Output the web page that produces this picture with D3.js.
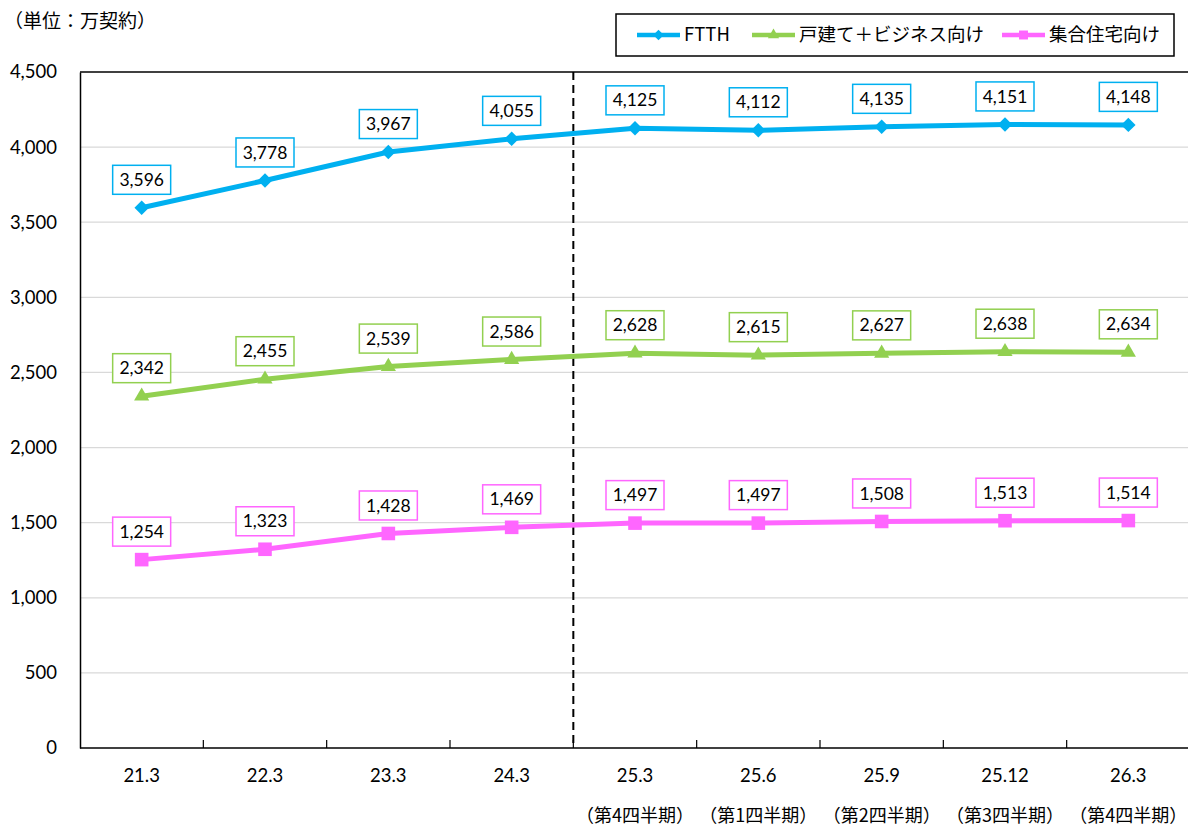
<!DOCTYPE html>
<html>
<head>
<meta charset="utf-8">
<script src="https://cdn.jsdelivr.net/npm/d3@7"></script>
<style>
  body { margin: 0; background: #fff; }
  svg { display: block; }
  .num { font-family: Lato, "Noto Sans", sans-serif; }
  .jp { font-family: "Noto Sans CJK JP", sans-serif; }
</style>
</head>
<body>
<script>
var categories = ["21.3", "22.3", "23.3", "24.3", "25.3", "25.6", "25.9", "25.12", "26.3"];
var subLabels = ["", "", "", "", "（第4四半期）", "（第1四半期）", "（第2四半期）", "（第3四半期）", "（第4四半期）"];
var ftth = [3596, 3778, 3967, 4055, 4125, 4112, 4135, 4151, 4148];
var detached = [2342, 2455, 2539, 2586, 2628, 2615, 2627, 2638, 2634];
var apartment = [1254, 1323, 1428, 1469, 1497, 1497, 1508, 1513, 1514];
var yTicks = [0, 500, 1000, 1500, 2000, 2500, 3000, 3500, 4000, 4500];

var series = [
  { name: "FTTH", values: ftth, color: "#00b0f0", marker: "diamond" },
  { name: "戸建て＋ビジネス向け", values: detached, color: "#92d050", marker: "triangle" },
  { name: "集合住宅向け", values: apartment, color: "#ff66ff", marker: "square" }
];

var width = 1188, height = 827;
var margin = { left: 80, right: 1190, top: 72, bottom: 748 };

var svg = d3.select("body").append("svg")
    .attr("width", width)
    .attr("height", height);

var x = d3.scaleBand()
    .domain(categories)
    .range([margin.left, margin.right])
    .padding(0);

var y = d3.scaleLinear()
    .domain([0, 4500])
    .range([margin.bottom, margin.top]);

function cx(i) { return x(categories[i]) + x.bandwidth() / 2; }

// gridlines
svg.append("g")
  .selectAll("line")
  .data(yTicks.filter(function(d) { return d > 0 && d < 4500; }))
  .enter().append("line")
    .attr("x1", margin.left)
    .attr("x2", margin.right)
    .attr("y1", function(d) { return y(d); })
    .attr("y2", function(d) { return y(d); })
    .attr("stroke", "#d9d9d9")
    .attr("stroke-width", 1.2);

// top border
svg.append("line")
    .attr("x1", margin.left).attr("x2", margin.right)
    .attr("y1", y(4500)).attr("y2", y(4500))
    .attr("stroke", "#000").attr("stroke-width", 1.5);

// y axis
var yAxis = d3.axisLeft(y)
    .tickValues(yTicks)
    .tickSize(0)
    .tickPadding(23)
    .tickFormat(d3.format(","));

var gy = svg.append("g")
    .attr("transform", "translate(" + margin.left + ",0)")
    .call(yAxis);
gy.select(".domain").attr("stroke", "#000").attr("stroke-width", 1.5);
gy.selectAll("text")
    .attr("class", "num")
    .attr("font-size", 18.5)
    .attr("fill", "#000");

// x axis
var gx = svg.append("g")
    .attr("transform", "translate(0," + margin.bottom + ")");
gx.append("line")
    .attr("x1", margin.left).attr("x2", margin.right)
    .attr("stroke", "#000").attr("stroke-width", 1.5);
gx.selectAll(".tick")
  .data(categories.slice(1))
  .enter().append("line")
    .attr("x1", function(d) { return x(d); })
    .attr("x2", function(d) { return x(d); })
    .attr("y1", 0).attr("y2", -8)
    .attr("stroke", "#000").attr("stroke-width", 1.2);
gx.selectAll(".lab")
  .data(categories)
  .enter().append("text")
    .attr("class", "num")
    .attr("x", function(d, i) { return cx(i); })
    .attr("y", 34)
    .attr("text-anchor", "middle")
    .attr("font-size", 18.5)
    .text(function(d) { return d; });
gx.selectAll(".sub")
  .data(subLabels)
  .enter().append("text")
    .attr("class", "jp")
    .attr("x", function(d, i) { return cx(i); })
    .attr("y", 74)
    .attr("text-anchor", "middle")
    .attr("font-size", 18)
    .text(function(d) { return d; });

// dashed separator between 24.3 and 25.3
svg.append("line")
    .attr("x1", x("25.3")).attr("x2", x("25.3"))
    .attr("y1", margin.top).attr("y2", margin.bottom)
    .attr("stroke", "#000")
    .attr("stroke-width", 2)
    .attr("stroke-dasharray", "8,5");

var symbols = {
  diamond: d3.symbol().type(d3.symbolSquare).size(105),
  triangle: d3.symbol().type(d3.symbolTriangle).size(100),
  square: d3.symbol().type(d3.symbolSquare).size(185)
};
function markerTransform(s) { return s.marker === "diamond" ? " rotate(45)" : ""; }

var line = d3.line()
    .x(function(d, i) { return cx(i); })
    .y(function(d) { return y(d); });

series.forEach(function(s) {
  var g = svg.append("g");
  g.append("path")
      .datum(s.values)
      .attr("fill", "none")
      .attr("stroke", s.color)
      .attr("stroke-width", 5)
      .attr("d", line);
  g.selectAll(".pt")
    .data(s.values)
    .enter().append("path")
      .attr("transform", function(d, i) { return "translate(" + cx(i) + "," + y(d) + ")" + markerTransform(s); })
      .attr("d", symbols[s.marker]())
      .attr("fill", s.color);

  var lab = g.selectAll(".lab")
    .data(s.values)
    .enter().append("g")
      .attr("transform", function(d, i) { return "translate(" + cx(i) + "," + (y(d) - 28) + ")"; });
  lab.append("rect")
      .attr("x", -29).attr("y", -14.5)
      .attr("width", 58).attr("height", 29)
      .attr("fill", "#fff")
      .attr("stroke", s.color)
      .attr("stroke-width", 1.5);
  lab.append("text")
      .attr("class", "num")
      .attr("text-anchor", "middle")
      .attr("dy", "0.35em")
      .attr("font-size", 17.5)
      .text(function(d) { return d3.format(",")(d); });
});

// unit label
svg.append("text")
    .attr("class", "jp")
    .attr("x", 4).attr("y", 28)
    .attr("font-size", 19)
    .text("（単位：万契約）");

// legend
var legend = svg.append("g");
legend.append("rect")
    .attr("x", 616).attr("y", 14)
    .attr("width", 558).attr("height", 42)
    .attr("fill", "#fff")
    .attr("stroke", "#000")
    .attr("stroke-width", 1.5);
var legendX = [637, 752, 1002];
series.forEach(function(s, i) {
  var lg = legend.append("g").attr("transform", "translate(" + legendX[i] + ",35)");
  lg.append("line")
      .attr("x1", 0).attr("x2", 43)
      .attr("stroke", s.color).attr("stroke-width", 4.5);
  lg.append("path")
      .attr("transform", "translate(21.5,0)" + markerTransform(s))
      .attr("d", d3.symbol().type(s.marker === "triangle" ? d3.symbolTriangle : d3.symbolSquare).size(s.marker === "square" ? 80 : 55)())
      .attr("fill", s.color);
  lg.append("text")
      .attr("class", "jp")
      .attr("x", 47)
      .attr("dy", "0.35em")
      .attr("font-size", 18.5)
      .text(s.name);
});
</script>
</body>
</html>
